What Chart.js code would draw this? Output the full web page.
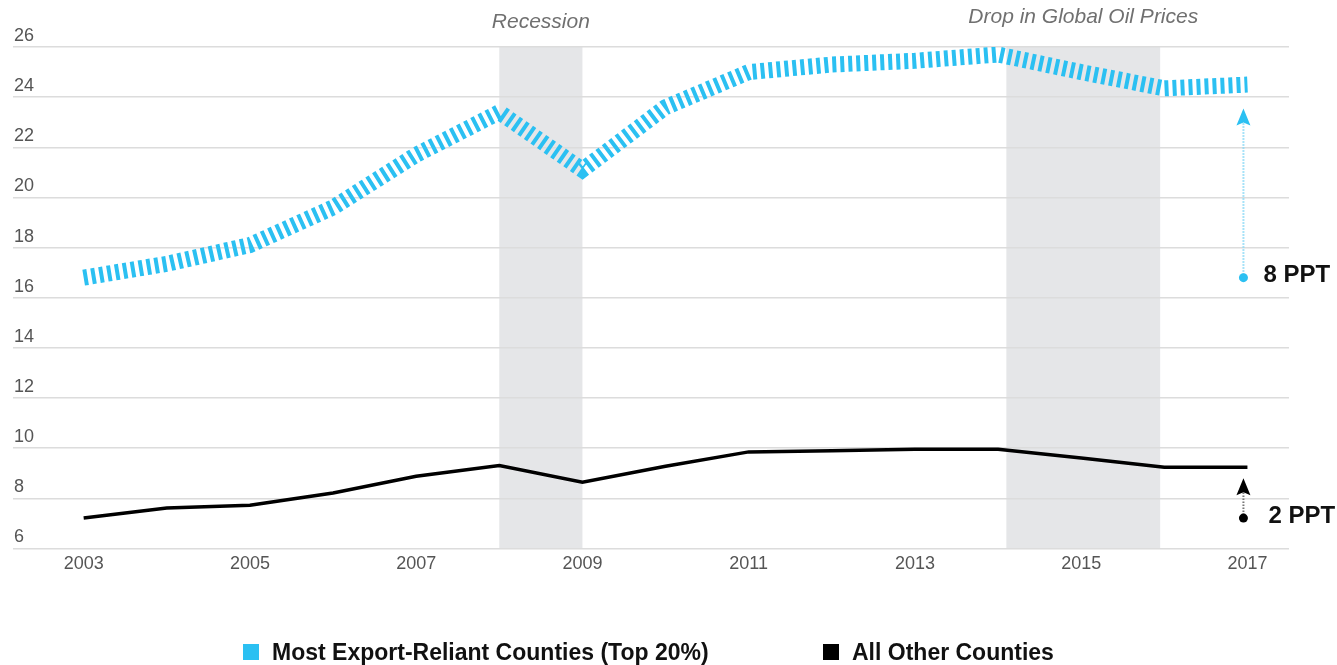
<!DOCTYPE html>
<html>
<head>
<meta charset="utf-8">
<script src="https://cdn.jsdelivr.net/npm/chart.js@4/dist/chart.umd.min.js"></script>
<style>
  body { margin: 0; background: #fff; }
  #wrap { position: relative; width: 1337px; height: 665px; }
  .legend-item {
    position: absolute; top: 640px; height: 24px;
    display: flex; align-items: center;
    font: bold 23px "Liberation Sans", Arial, sans-serif; color: #111;
  }
  .legend-item span.box { width: 16px; height: 16px; margin-right: 13px; }
</style>
</head>
<body>
<div id="wrap">
  <canvas id="chart"></canvas>
  <div class="legend-item" style="left:243px"><span class="box" style="background:#2bc0f2"></span>Most Export-Reliant Counties (Top 20%)</div>
  <div class="legend-item" style="left:823px"><span class="box" style="background:#000"></span>All Other Counties</div>
</div>
<script>
/******************************************************************
DATA
******************************************************************/
var years = [2003, 2004, 2005, 2006, 2007, 2008, 2009, 2010, 2011, 2012, 2013, 2014, 2015, 2016, 2017];
var exportReliant = [16.8, 17.35, 18.1, 19.6, 21.7, 23.4, 21.1, 23.6, 25.0, 25.3, 25.45, 25.7, 25.0, 24.35, 24.5];
var allOther = [7.21, 7.61, 7.72, 8.21, 8.88, 9.31, 8.64, 9.28, 9.85, 9.9, 9.95, 9.95, 9.61, 9.24, 9.24];
var xTicks = [2003, 2005, 2007, 2009, 2011, 2013, 2015, 2017];

// shaded periods
var bandStarts = [2008, 2014.1];
var bandEnds = [2009, 2015.95];
var bandLabels = ["Recession", "Drop in Global Oil Prices"];

var BLUE = '#2bc0f2';

function toPoints(vals) {
  return years.map(function (yr, i) { return { x: yr, y: vals[i] }; });
}

/******************************************************************
PLUGINS
******************************************************************/
var bandsPlugin = {
  id: 'bands',
  beforeDraw: function (chart) {
    var ctx = chart.ctx, area = chart.chartArea, x = chart.scales.x;
    ctx.save();
    ctx.fillStyle = '#e5e6e8';
    for (var i = 0; i < bandStarts.length; i++) {
      var x0 = x.getPixelForValue(bandStarts[i]);
      var x1 = x.getPixelForValue(bandEnds[i]);
      ctx.fillRect(x0, area.top, x1 - x0, area.bottom - area.top);
    }
    ctx.restore();
  },
  afterDraw: function (chart) {
    var ctx = chart.ctx, x = chart.scales.x;
    var labelY = [22, 17];
    ctx.save();
    ctx.font = 'italic 21px "Liberation Sans", Arial, sans-serif';
    ctx.fillStyle = '#707070';
    ctx.textAlign = 'center';
    ctx.textBaseline = 'middle';
    for (var i = 0; i < bandLabels.length; i++) {
      var cx = (x.getPixelForValue(bandStarts[i]) + x.getPixelForValue(bandEnds[i])) / 2;
      ctx.fillText(bandLabels[i], cx, labelY[i]);
    }
    ctx.restore();
  }
};

// arrow from the first year's value up to the last year's line, with the change in points
function drawGap(chart, vals, color, shaftColor, gap, textDx) {
  var ctx = chart.ctx, x = chart.scales.x, y = chart.scales.y;
  var last = vals.length - 1;
  var px = x.getPixelForValue(years[last]) - 4;
  var yDot = y.getPixelForValue(vals[0]);
  var yTip = y.getPixelForValue(vals[last]) + gap;
  var headH = 17, headW = 7, notch = 3;

  ctx.save();
  ctx.strokeStyle = shaftColor;
  ctx.lineWidth = 2;
  ctx.setLineDash([1.5, 1.5]);
  ctx.beginPath();
  ctx.moveTo(px, yDot);
  ctx.lineTo(px, yTip + headH - notch);
  ctx.stroke();
  ctx.setLineDash([]);

  ctx.fillStyle = color;
  ctx.beginPath();
  ctx.moveTo(px, yTip);
  ctx.lineTo(px + headW, yTip + headH);
  ctx.lineTo(px, yTip + headH - notch);
  ctx.lineTo(px - headW, yTip + headH);
  ctx.closePath();
  ctx.fill();

  ctx.beginPath();
  ctx.arc(px, yDot, 4.5, 0, Math.PI * 2);
  ctx.fill();

  ctx.fillStyle = '#111';
  ctx.font = 'bold 24px "Liberation Sans", Arial, sans-serif';
  ctx.textAlign = 'left';
  ctx.textBaseline = 'middle';
  ctx.fillText(Math.round(vals[last] - vals[0]) + ' PPT', px + textDx, yDot - 2);
  ctx.restore();
}

var gapPlugin = {
  id: 'gaps',
  afterDatasetsDraw: function (chart) {
    drawGap(chart, exportReliant, BLUE, '#8ad9f6', 24, 20);
    drawGap(chart, allOther, '#000', '#777', 11, 25);
  }
};

/******************************************************************
CHART
******************************************************************/
var ctx = document.getElementById('chart').getContext('2d');
var chart = new Chart(ctx, {
  type: 'line',
  data: {
    datasets: [{
      label: 'Most Export-Reliant Counties (Top 20%)',
      data: toPoints(exportReliant),
      borderColor: BLUE,
      borderWidth: 16,
      borderDash: [4, 4],
      borderCapStyle: 'butt',
      pointRadius: 0,
      tension: 0
    }, {
      label: 'All Other Counties',
      data: toPoints(allOther),
      borderColor: '#000',
      borderWidth: 3.5,
      pointRadius: 0,
      tension: 0
    }]
  },
  options: {
    responsive: true,
    maintainAspectRatio: false,
    animation: false,
    layout: { padding: { left: 11, right: 48, top: 47, bottom: 85 } },
    plugins: { legend: { display: false }, tooltip: { enabled: false } },
    scales: {
      x: {
        type: 'linear',
        min: 2002.15,
        max: 2017.5,
        afterBuildTicks: function (scale) {
          scale.ticks = xTicks.map(function (v) { return { value: v }; });
        },
        grid: { display: false, drawTicks: false },
        border: { display: false },
        ticks: {
          padding: 5,
          color: '#555',
          font: { family: '"Liberation Sans", Arial, sans-serif', size: 18 },
          maxRotation: 0,
          autoSkip: false,
          callback: function (v) { return String(v); }
        }
      },
      y: {
        min: 6,
        max: 26,
        grid: { color: '#dcdcdc', lineWidth: 1.5, drawTicks: false },
        border: { display: false },
        ticks: {
          stepSize: 2,
          mirror: true,
          padding: 1,
          labelOffset: -11,
          color: '#555',
          font: { family: '"Liberation Sans", Arial, sans-serif', size: 18 }
        }
      }
    }
  },
  plugins: [bandsPlugin, gapPlugin]
});
</script>
</body>
</html>
